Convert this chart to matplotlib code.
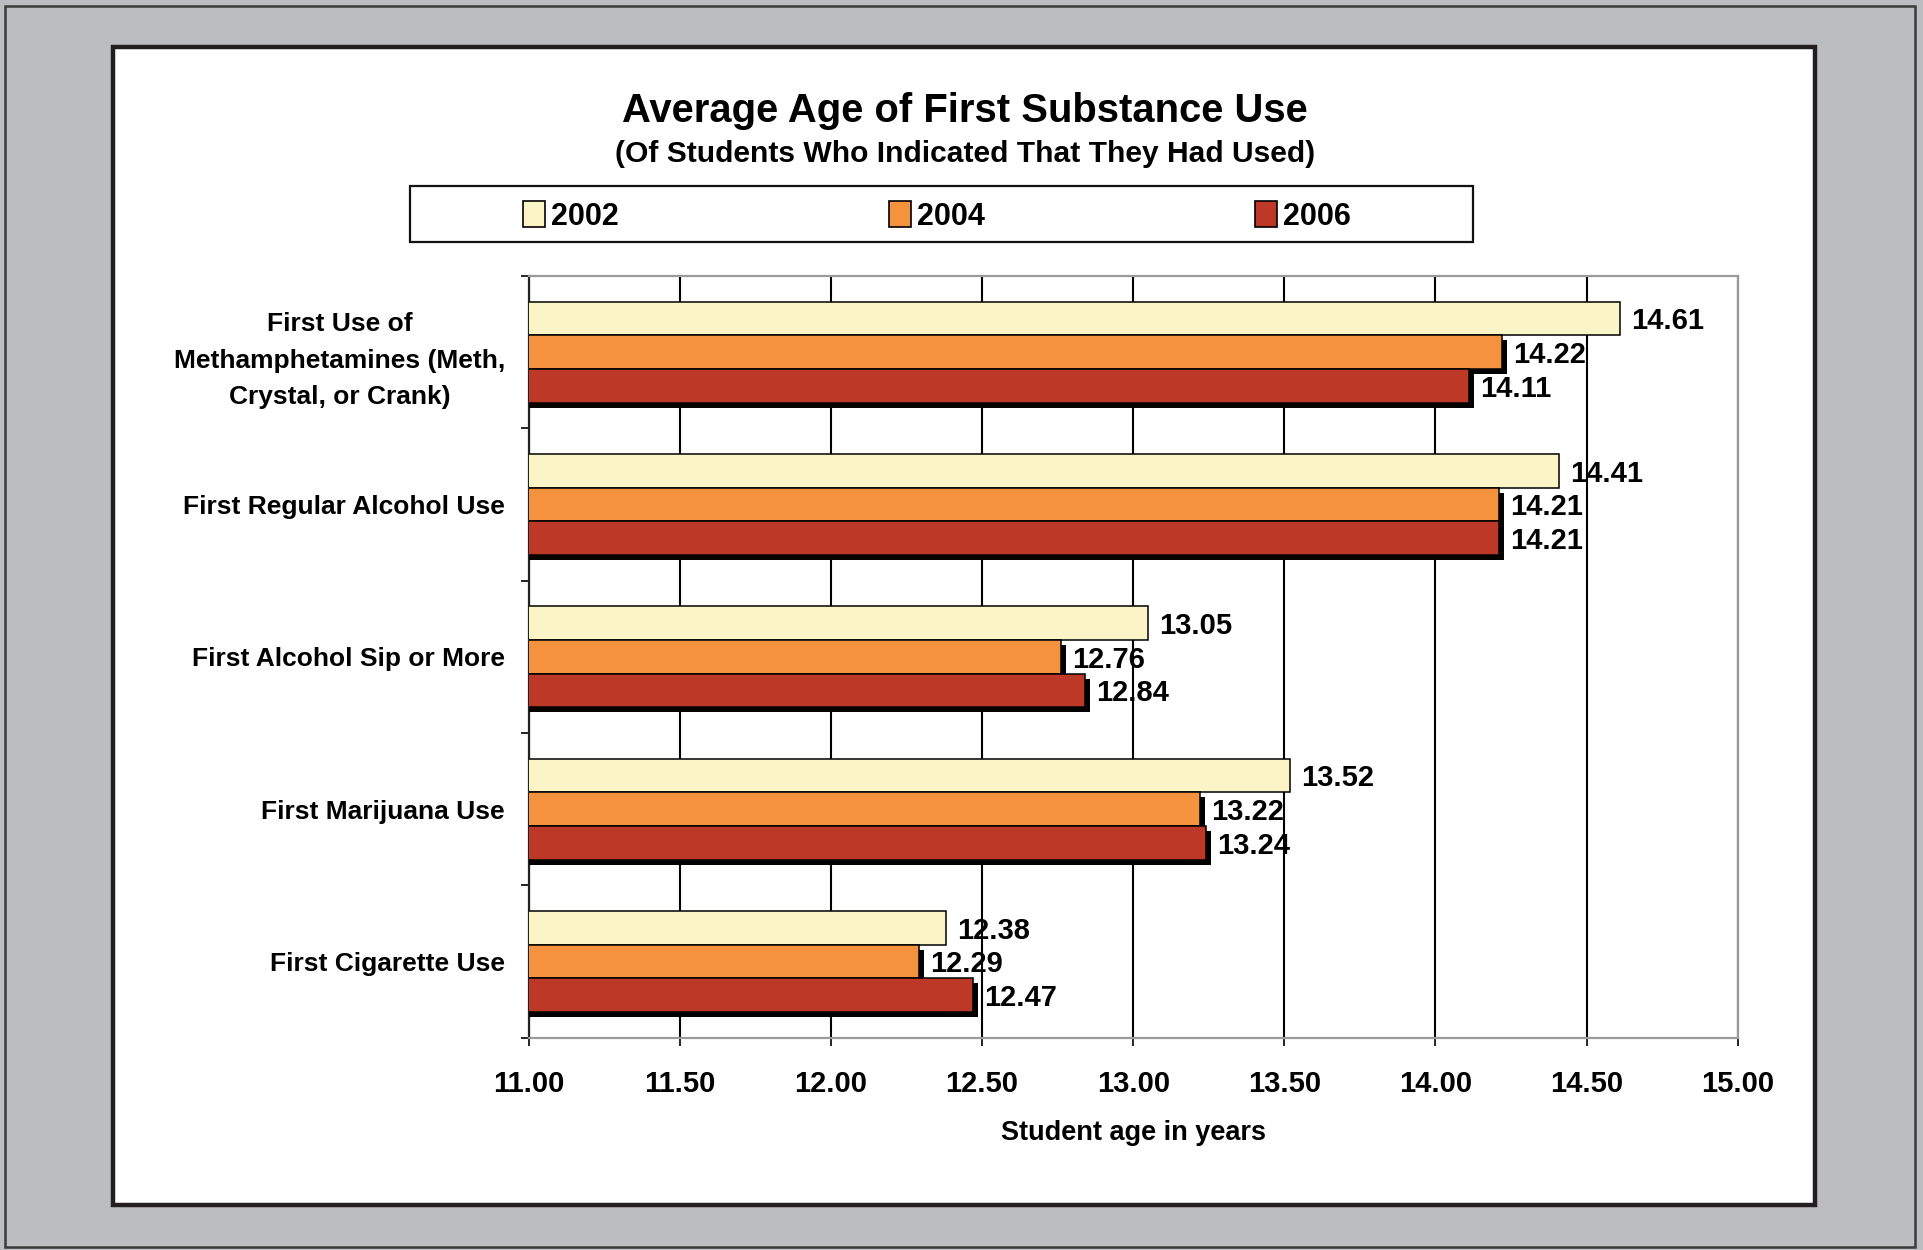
import matplotlib
matplotlib.use("Agg")
import matplotlib.pyplot as plt
import matplotlib.patheffects as pe
from matplotlib.patches import Rectangle, Patch
import numpy as np

categories = ["First Use of\nMethamphetamines (Meth,\nCrystal, or Crank)",
              "First Regular Alcohol Use",
              "First Alcohol Sip or More",
              "First Marijuana Use",
              "First Cigarette Use"]
years = ["2002", "2004", "2006"]
v2002 = [14.61, 14.41, 13.05, 13.52, 12.38]
v2004 = [14.22, 14.21, 12.76, 13.22, 12.29]
v2006 = [14.11, 14.21, 12.84, 13.24, 12.47]
xticks = [11.0, 11.5, 12.0, 12.5, 13.0, 13.5, 14.0, 14.5, 15.0]

colors = ["#FAF4C6", "#F5923E", "#BD3826"]
series = [v2002, v2004, v2006]

plt.rcParams['font.family'] = ['Liberation Sans', 'DejaVu Sans']
plt.rcParams['font.weight'] = 'bold'

W, H = 1923, 1250
fig = plt.figure(figsize=(W / 100, H / 100), dpi=100, facecolor="#BCBDC1")

def px_rect(x0, y0, x1, y1, **kw):
    return Rectangle((x0 / W, 1 - y1 / H), (x1 - x0) / W, (y1 - y0) / H,
                     transform=fig.transFigure, **kw)

# outer thin border
fig.add_artist(px_rect(5, 6, 1915, 1247, facecolor="none", edgecolor="#3a3a3a",
                       linewidth=1.8, zorder=-10))
# white panel
fig.add_artist(px_rect(113, 47, 1815, 1205, facecolor="white", edgecolor="#231F20",
                       linewidth=3.2, zorder=-9))

ax = fig.add_axes([528.6 / W, 1 - 1037.6 / H, (1737.8 - 528.6) / W, (1037.6 - 276) / H])
ax.set_facecolor("white")

n = len(categories)
y = np.arange(n)
bh = 0.221
offsets = [-bh, 0, bh]
shadow = pe.SimplePatchShadow(offset=(3.6, -3.6), shadow_rgbFace="black", alpha=1.0)
for k, (vals, col, off) in enumerate(zip(series, colors, offsets)):
    bars = ax.barh(y + off, vals, height=bh, left=0, color=col, edgecolor="black",
                   linewidth=1.1, zorder=3 + k)
    for b, v in zip(bars, vals):
        if k > 0:
            b.set_path_effects([shadow, pe.Normal()])
        ax.annotate(f"{v:.2f}", xy=(v, b.get_y() + bh / 2),
                    xytext=(8, -2), textcoords="offset points", ha="left", va="center",
                    fontsize=21, fontweight="bold", zorder=10)

ax.set_xlim(11.0, 15.0)
ax.set_ylim(n - 0.5, -0.5)
ax.set_xticks(xticks)
ax.set_xticklabels([f"{t:.2f}" for t in xticks])
ax.set_yticks(y)
ax.set_yticklabels(categories, multialignment="center", linespacing=1.65)
ax.set_yticks(np.arange(n + 1) - 0.5, minor=True)
ax.tick_params(axis="y", which="major", length=0, pad=17, labelsize=19)
ax.tick_params(axis="y", which="minor", length=6, width=1.2, color="black", direction="out")
ax.tick_params(axis="x", which="major", length=6, width=1.2, color="black",
               direction="out", pad=17, labelsize=21)
ax.grid(axis="x", color="black", linewidth=1.5, zorder=1)
ax.set_axisbelow(True)

for s in ["top", "right", "bottom"]:
    ax.spines[s].set_color("#9a9a9a")
    ax.spines[s].set_linewidth(1.6)
ax.spines["left"].set_color("#222222")
ax.spines["left"].set_linewidth(1.6)

ax.set_xlabel("Student age in years", fontsize=19.5, fontweight="bold", labelpad=16)

fig.text(965 / W, 1 - 110.5 / H, "Average Age of First Substance Use", ha="center",
         va="center", fontsize=28.8, fontweight="bold")
fig.text(965 / W, 1 - 153.5 / H, "(Of Students Who Indicated That They Had Used)",
         ha="center", va="center", fontsize=21.6, fontweight="bold")

# legend frame
fig.add_artist(px_rect(409.6, 186.4, 1473, 241.6, facecolor="white", edgecolor="#111111",
                       linewidth=1.6, zorder=-8))
handles = [Patch(facecolor=c, edgecolor="black", linewidth=1.2) for c in colors]
fig.legend(handles, years, loc="center", bbox_to_anchor=(937 / W, 1 - 216.5 / H),
           ncol=3, frameon=False, handlelength=0.72, handleheight=0.9,
           handletextpad=0.2, columnspacing=8.85, prop={"weight": "bold", "size": 22})

fig.savefig("out.png", dpi=100, facecolor=fig.get_facecolor())
